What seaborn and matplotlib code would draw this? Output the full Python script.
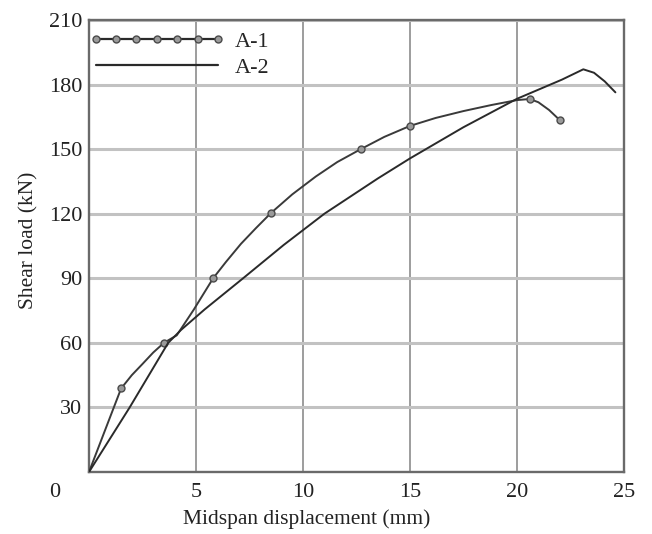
import matplotlib
matplotlib.use("Agg")
import matplotlib.pyplot as plt
from matplotlib.lines import Line2D
import seaborn as sns
import pandas as pd

# A-1 curve (traced), with marker indices
a1_x = [0, 1.5, 2.0, 2.5, 3.0, 3.5, 4.1, 4.9, 5.8, 6.4, 7.1, 7.8, 8.5, 9.5, 10.6, 11.6, 12.7,
        13.8, 15.0, 16.2, 17.5, 18.8, 20.0, 20.6, 21.0, 21.5, 22.0]
a1_y = [0, 38.8, 45.0, 50.2, 55.5, 60, 63.5, 75.5, 90, 97.6, 106, 113.3, 120.3, 129.0, 137.3, 144.0, 150,
        155.7, 160.8, 164.5, 167.7, 170.5, 172.8, 173.3, 171.8, 168.2, 163.5]
a1_markers = [1, 5, 8, 12, 16, 18, 23, 26]

# A-2 curve (traced)
a2_x = [0, 1.9, 3.7, 4.3, 5.4, 7.2, 9.1, 11.0, 13.5, 15.0, 17.5, 20.0, 22.1, 23.1, 23.6, 24.1, 24.6]
a2_y = [0, 30, 60, 66, 75.5, 90, 105.5, 120, 136.4, 145.7, 160.2, 173.4, 182.3, 187.1, 185.5, 181.5, 176.4]

series_labels = ["A-1", "A-2"]
x_ticks = [5, 10, 15, 20, 25]
y_ticks = [30, 60, 90, 120, 150, 180, 210]

sns.set_theme(style="whitegrid")
plt.rcParams["font.family"] = ["Liberation Serif", "DejaVu Serif"]

fig = plt.figure(figsize=(6.52, 5.34), dpi=100)
ax = fig.add_axes([0.1365, 0.1161, 0.8205, 0.8464])

df1 = pd.DataFrame({"x": a1_x, "y": a1_y})
df2 = pd.DataFrame({"x": a2_x, "y": a2_y})

sns.lineplot(data=df1, x="x", y="y", ax=ax, estimator=None, sort=False,
             color="#3a3a3a", lw=1.4, marker="o", markevery=a1_markers,
             markersize=5, markerfacecolor="#9a9a9a", markeredgecolor="#4a4a4a",
             markeredgewidth=1.0, zorder=3)
sns.lineplot(data=df2, x="x", y="y", ax=ax, estimator=None, sort=False,
             color="#2a2a2a", lw=1.4, zorder=3)

ax.set_xlim(0, 25)
ax.set_ylim(0, 210)
ax.set_xticks([0] + x_ticks)
ax.set_xticklabels([""] + [str(v) for v in x_ticks])
ax.set_yticks([0] + y_ticks)
ax.set_yticklabels([""] + [str(v) for v in y_ticks])
ax.tick_params(axis="x", labelsize=16, colors="#222222", length=0, pad=8)
ax.tick_params(axis="y", labelsize=16, colors="#222222", length=0, pad=5)
ax.annotate("0", xy=(0, 0), xycoords="data", xytext=(-24.5, -14.5),
            textcoords="offset points", fontsize=16, color="#222222",
            ha="center", va="center", annotation_clip=False)

ax.xaxis.grid(True, color="#8c8c8c", lw=1.2)
ax.yaxis.grid(True, color="#c2c2c2", lw=2.2)
for s in ax.spines.values():
    s.set_color("#6a6a6a")
    s.set_linewidth(1.7)

ax.set_xlabel("Midspan displacement (mm)", fontsize=15.5, color="#222222")
ax.xaxis.label.set_va("center")
ax.xaxis.set_label_coords(0.407, -0.104)
ax.set_ylabel("Shear load (kN)", fontsize=15.5, color="#222222")
ax.yaxis.label.set_va("center")
ax.yaxis.set_label_coords(-0.113, 0.513)

handles = [
    Line2D([], [], color="#2a2a2a", lw=1.6, marker="o", markersize=5,
           markerfacecolor="#9a9a9a", markeredgecolor="#4a4a4a"),
    Line2D([], [], color="#2a2a2a", lw=1.6),
]
leg = ax.legend(handles, series_labels, loc="upper left", frameon=False,
                bbox_to_anchor=(0.0, 0.975), numpoints=7, handlelength=6.1,
                fontsize=16, borderaxespad=0.0, borderpad=0.0,
                labelspacing=0.24, handletextpad=0.45)

fig.savefig("out.png", dpi=100)
